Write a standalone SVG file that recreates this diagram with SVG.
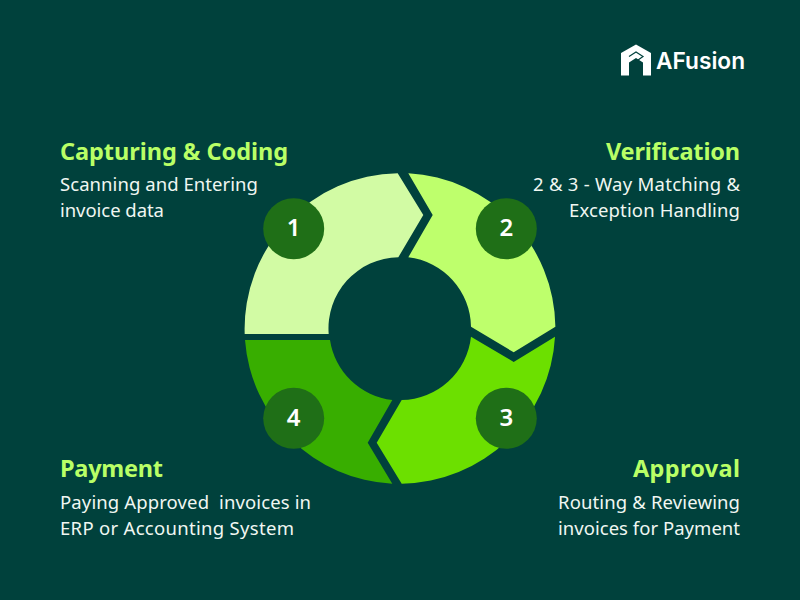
<svg xmlns="http://www.w3.org/2000/svg" width="800" height="600" viewBox="0 0 800 600">
<style>
text{font-family:"Noto Sans","Open Sans",sans-serif}
.h{font-size:23.500px;font-weight:700;fill:#b9ff66}
.b{font-size:18.500px;fill:#f0f7f2}
.n{font-size:24px;font-weight:600;fill:#fff;text-anchor:middle}
.r{text-anchor:end}
.c{fill:#1f6f17}
</style>
<rect width="800" height="600" fill="#00413c"/>
<g id="logo">
<path d="M636 44.500L651 53V75.500H643V62.500L636 58L629 62.500V75.500H621V53Z" fill="#fff"/>
<path d="M629 56.500L636 52L643 56.500L636 61.500" fill="none" stroke="#00413c" stroke-width="1.200"/>
<text x="656" y="69" font-size="23" font-weight="600" fill="#fff" style="font-family:Inter,'Noto Sans',sans-serif" textLength="89" lengthAdjust="spacingAndGlyphs">AFusion</text>
</g>
<g id="node-1">
<path d="M397.700 173.300L423.300 215L398.300 257.300A71 71 0 0 0 328.700 334H244.700A155.500 155.500 0 0 1 397.700 173.300Z" fill="#d2fba4"/>
<circle class="c" cx="293.700" cy="228.700" r="30.500"/>
<text class="n" x="293.700" y="236">1</text>
<text class="h" x="60" y="160" textLength="228">Capturing &amp; Coding</text>
<text class="b" x="60" y="191" textLength="198">Scanning and Entering</text>
<text class="b" x="60" y="217" textLength="104">invoice data</text>
</g>
<g id="node-2">
<path d="M408.300 173.300A155.500 155.500 0 0 1 555.400 326.700L513.700 352.300L471 326.700A71 71 0 0 0 408.300 257.300L432.700 215Z" fill="#beff6c"/>
<circle class="c" cx="506.300" cy="228.700" r="30.500"/>
<text class="n" x="506.300" y="236">2</text>
<text class="h" x="606" y="160" textLength="134">Verification</text>
<text class="b" x="533" y="191" textLength="207">2 &amp; 3 - Way Matching &amp;</text>
<text class="b" x="569" y="217" textLength="171">Exception Handling</text>
</g>
<g id="node-3">
<path d="M471 336.700L513.700 362L555 336.700A155.500 155.500 0 0 1 401.700 483.700L376.700 442.700L401.700 400A71 71 0 0 0 471 336.700Z" fill="#6ce000"/>
<circle class="c" cx="506.300" cy="418.300" r="30.500"/>
<text class="n" x="506.300" y="425.500">3</text>
<text class="h" x="633" y="477" textLength="107">Approval</text>
<text class="b" x="558" y="509" textLength="182">Routing &amp; Reviewing</text>
<text class="b" x="558" y="535" textLength="182">invoices for Payment</text>
</g>
<g id="node-4">
<path d="M245 340H330A71 71 0 0 0 392.300 400L367.700 442.700L392.300 483.700A155.500 155.500 0 0 1 245 340Z" fill="#38ae00"/>
<circle class="c" cx="293.700" cy="418.300" r="30.500"/>
<text class="n" x="293.700" y="425.500">4</text>
<text class="h" x="60" y="477" textLength="103">Payment</text>
<text class="b" x="60" y="509" xml:space="preserve" textLength="251">Paying Approved  invoices in</text>
<text class="b" x="60" y="535" textLength="234">ERP or Accounting System</text>
</g>
</svg>
